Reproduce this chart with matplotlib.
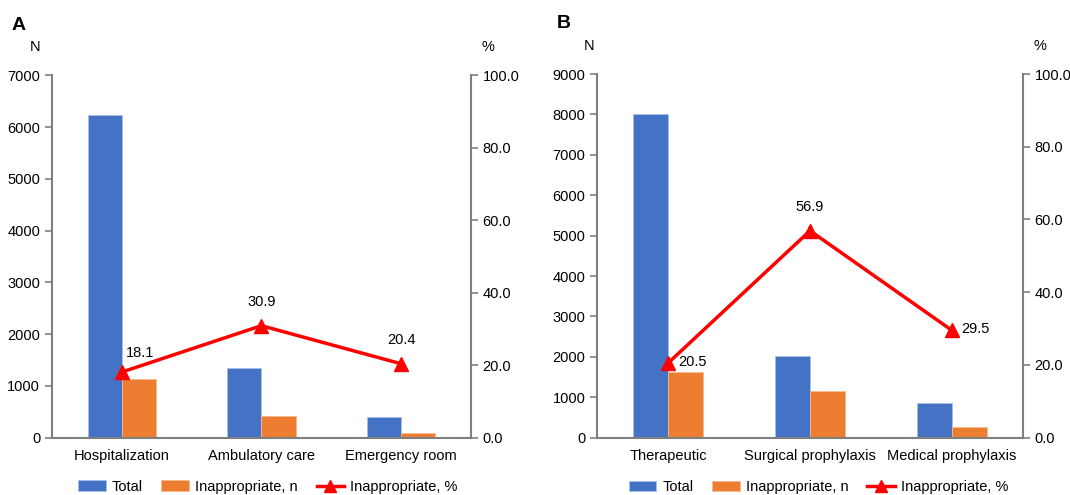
import matplotlib
matplotlib.use("Agg")
import matplotlib.pyplot as plt
import numpy as np

plt.rcParams["font.family"] = ["Liberation Sans", "DejaVu Sans"]
plt.rcParams["font.size"] = 10.5

# Panel A: setting of care
cats_a = ["Hospitalization", "Ambulatory care", "Emergency room"]
total_a = [6225, 1345, 395]
inapp_a = [1130, 420, 85]
pct_a = [18.1, 30.9, 20.4]

# Panel B: indication
cats_b = ["Therapeutic", "Surgical prophylaxis", "Medical prophylaxis"]
total_b = [8000, 2015, 850]
inapp_b = [1635, 1150, 255]
pct_b = [20.5, 56.9, 29.5]

BLUE = "#4472C4"
ORANGE = "#ED7D31"
RED = "#FF0000"
GRAY = "#7f7f7f"


def panel(fig, rect, cats, total, inapp, pct, ymax, ystep, label_pos, letter, n_dx, leg_x):
    ax = fig.add_axes(rect)
    x = np.arange(len(cats))
    w = 0.245
    ax.bar(x - w / 2, total, w, color=BLUE, edgecolor="#a9c0ea", lw=0.6, label="Total")
    ax.bar(x + w / 2, inapp, w, color=ORANGE, edgecolor="#f5b98f", lw=0.6, label="Inappropriate, n")
    ax.set_xlim(-0.5, len(cats) - 0.5)
    ax.set_ylim(0, ymax)
    ax.set_yticks(np.arange(0, ymax + 1, ystep))
    ax.set_xticks(x)
    ax.set_xticklabels(cats)
    ax.tick_params(axis="x", length=0, pad=8)
    ax.tick_params(axis="y", color=GRAY, length=5, width=1.2)
    for s in ["top", "right"]:
        ax.spines[s].set_visible(False)
    for s in ["left", "bottom"]:
        ax.spines[s].set_color(GRAY)
        ax.spines[s].set_linewidth(1.5)

    ax2 = ax.twinx()
    ax2.plot(x, pct, color=RED, lw=2.5, marker="^", ms=10, label="Inappropriate, %")
    ax2.set_ylim(0, 100)
    ax2.set_yticks(np.arange(0, 101, 20))
    ax2.set_yticklabels([f"{v:.1f}" for v in np.arange(0, 101, 20)])
    ax2.tick_params(axis="y", color=GRAY, length=5, width=1.2)
    for s in ["top", "left", "bottom"]:
        ax2.spines[s].set_visible(False)
    ax2.spines["right"].set_color(GRAY)
    ax2.spines["right"].set_linewidth(1.5)

    for xi, p, pos in zip(x, pct, label_pos):
        if pos == "above":
            ax2.annotate(f"{p:.1f}", (xi, p), xytext=(0, 12), textcoords="offset points",
                         ha="center", va="bottom")
        elif pos == "upright":
            ax2.annotate(f"{p:.1f}", (xi, p), xytext=(3, 9), textcoords="offset points",
                         ha="left", va="bottom")
        else:
            ax2.annotate(f"{p:.1f}", (xi, p), xytext=(7, 1), textcoords="offset points",
                         ha="left", va="center")

    ax.annotate("N", (0, 1), xycoords="axes fraction", xytext=(n_dx, 15),
                textcoords="offset points", ha="center", va="bottom")
    ax.annotate("%", (1, 1), xycoords="axes fraction", xytext=(12, 15),
                textcoords="offset points", ha="center", va="bottom")
    ax.annotate(letter, (0, 1), xycoords="axes fraction", xytext=(-29, 30),
                textcoords="offset points", fontsize=14, fontweight="bold",
                ha="left", va="bottom")

    h1, l1 = ax.get_legend_handles_labels()
    h2, l2 = ax2.get_legend_handles_labels()
    ax.legend(h1 + h2, l1 + l2, loc="center", bbox_to_anchor=(leg_x, -0.135),
              ncol=3, frameon=False, handlelength=1.9, columnspacing=1.3,
              handletextpad=0.4, markerscale=0.8)
    return ax


fig = plt.figure(figsize=(10.7, 4.95), dpi=100)
panel(fig, [0.0486, 0.1158, 0.3914, 0.7322], cats_a, total_a, inapp_a, pct_a,
      7000, 1000, ["upright", "above", "above"], "A", -12, 0.515)
panel(fig, [0.558, 0.1158, 0.398, 0.7347], cats_b, total_b, inapp_b, pct_b,
      9000, 1000, ["right", "above", "right"], "B", -6, 0.52)

fig.savefig("out.png", dpi=100)
